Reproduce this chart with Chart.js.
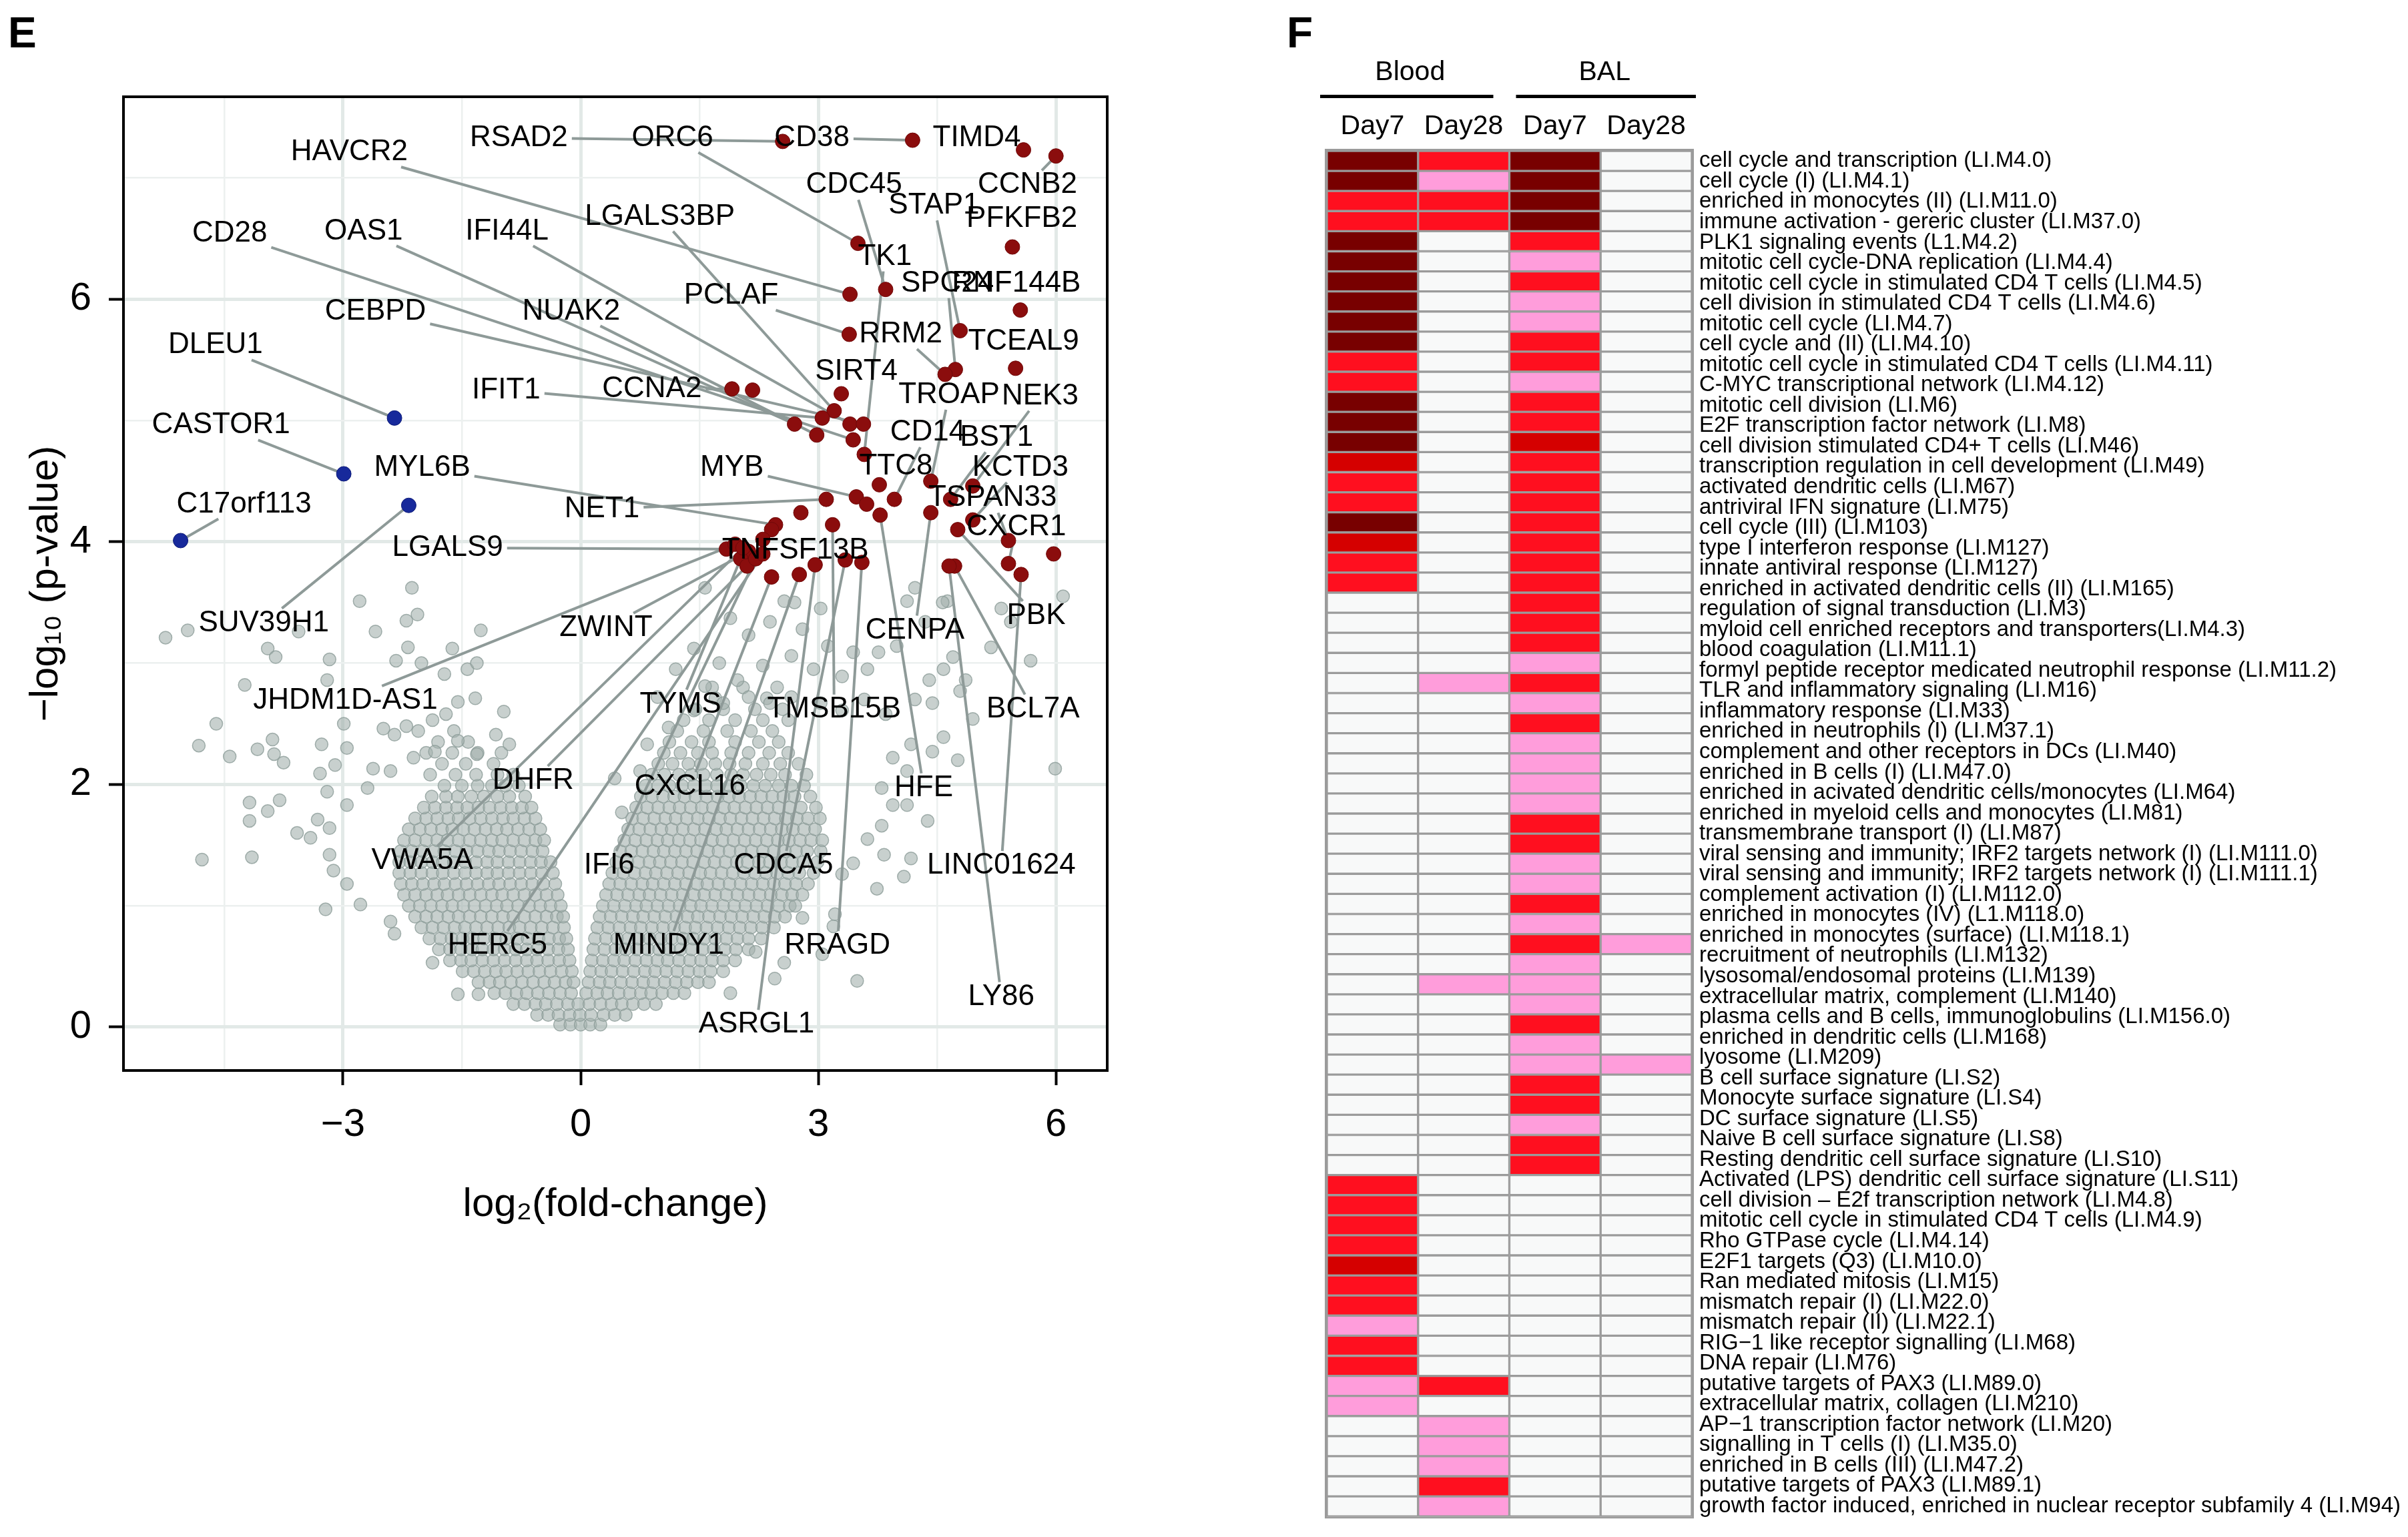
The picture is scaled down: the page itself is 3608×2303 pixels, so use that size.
<!DOCTYPE html>
<html>
<head>
<meta charset="utf-8">
<script src="https://cdn.jsdelivr.net/npm/chart.js@4.4.1/dist/chart.umd.min.js"></script>
<style>
html, body { margin: 0; padding: 0; background: #ffffff; }
#wrap { position: relative; width: 3608px; height: 2303px; overflow: hidden; background: #ffffff; }
#volcano { position: absolute; left: 0; top: 0; }
#heat { position: absolute; left: 1900px; top: 0; }
</style>
</head>
<body>
<div id="wrap">
  <canvas id="volcano" width="1900" height="2303"></canvas>
  <canvas id="heat" width="1708" height="2303"></canvas>
</div>
<script>
// ===================== DATA: panel E (volcano) =====================
const xGridValues = [-4.5, -3, -1.5, 0, 1.5, 3, 4.5, 6];
const xTickValues = [-3, 0, 3, 6];
const yGridValues = [0, 1, 2, 3, 4, 5, 6, 7];
const yTickValues = [0, 2, 4, 6];

const geneNames = ['RSAD2','ORC6','CD38','TIMD4','CCNB2','HAVCR2','CDC45','STAP1','LGALS3BP','PFKFB2',
  'CD28','OAS1','IFI44L','TK1','PCLAF','SPC24','RNF144B','CEBPD','NUAK2','RRM2',
  'TCEAL9','SIRT4','TROAP','NEK3','IFIT1','CCNA2','CD14','BST1','MYB','KCTD3',
  'TTC8','TSPAN33','NET1','MYL6B','CXCR1','LGALS9','TNFSF13B','PBK','CENPA','ZWINT',
  'JHDM1D-AS1','TYMS','TMSB15B','BCL7A','DHFR','CXCL16','HFE','VWA5A','IFI6','CDCA5',
  'LINC01624','HERC5','MINDY1','RRAGD','LY86','ASRGL1','SUV39H1','DLEU1','CASTOR1','C17orf113'];
const geneLog2FC = [2.55,3.50,4.19,5.59,6.00,3.40,3.85,4.79,3.20,5.45,
  3.44,2.70,3.40,3.58,3.39,4.73,5.55,3.57,2.98,4.60,
  5.49,3.29,4.42,4.95,3.05,1.91,3.96,4.67,3.48,4.95,
  3.77,5.40,3.10,2.46,5.40,1.84,2.41,4.76,4.42,2.12,
  1.95,2.02,3.18,4.72,2.10,2.41,3.78,2.05,2.21,3.34,
  5.56,2.30,2.76,3.55,4.65,2.96,-2.17,-2.35,-2.99,-5.05];
const geneNegLog10P = [7.30,6.46,7.31,7.23,7.18,6.04,6.08,5.74,5.08,6.43,
  4.84,4.97,4.97,4.72,5.71,5.42,5.91,4.97,4.88,5.38,
  5.43,5.22,4.50,4.46,5.02,5.26,4.35,4.35,4.37,4.18,
  4.47,4.01,4.35,4.14,3.82,3.94,4.10,4.10,4.24,3.92,
  3.98,3.86,4.14,3.80,3.80,3.71,4.22,3.95,3.86,3.85,
  3.73,3.90,3.73,3.83,3.80,3.81,4.30,5.02,4.56,4.01];
// significant (up) genes without a label
const extraUpLog2FC = [2.17, 3.61, 2.78, 5.97, 2.30];
const extraUpNegLog10P = [5.25, 4.31, 4.24, 3.90, 4.02];

// non-significant genes: dense cloud read row by row, then scattered outliers
const cloudRowY = [0.02,0.10,0.19,0.28,0.37,0.46,0.55,0.64,0.73,0.82,0.91,1.00,1.09,1.18,1.27,1.36,1.45,1.54,1.63,1.72,1.81,1.90,1.99,2.08,2.17,2.26,2.35,2.44,2.53,2.62,2.71,2.80];
const cloudRowX = [
  [-0.26,-0.13,0.00,0.12,0.25],
  [-0.55,-0.41,-0.28,-0.14,-0.01,0.13,0.29,0.43,0.57],
  [-0.85,-0.71,-0.57,-0.44,-0.30,-0.16,-0.03,0.11,0.25,0.39,0.52,0.66,0.80,0.95],
  [-1.09,-0.95,-0.81,-0.68,-0.54,-0.40,-0.26,-0.12,0.07,0.21,0.34,0.48,0.62,0.76,0.89,1.03,1.17,1.31],
  [-1.29,-1.15,-1.02,-0.88,-0.74,-0.60,-0.46,-0.33,-0.19,-0.09,0.10,0.24,0.37,0.51,0.65,0.79,0.92,1.06,1.20,1.34,1.48,1.62],
  [-1.49,-1.35,-1.21,-1.07,-0.94,-0.80,-0.66,-0.52,-0.38,-0.24,-0.11,0.12,0.26,0.39,0.53,0.67,0.81,0.94,1.08,1.22,1.36,1.50,1.64,1.80],
  [-1.65,-1.51,-1.38,-1.24,-1.10,-0.96,-0.82,-0.68,-0.55,-0.41,-0.27,-0.14,0.14,0.28,0.42,0.55,0.69,0.83,0.97,1.10,1.24,1.38,1.52,1.66,1.80,1.95],
  [-1.79,-1.65,-1.51,-1.37,-1.24,-1.10,-0.96,-0.82,-0.68,-0.55,-0.41,-0.28,-0.16,0.16,0.30,0.44,0.57,0.71,0.85,0.99,1.12,1.26,1.40,1.54,1.68,1.82,1.96,2.12],
  [-1.91,-1.77,-1.63,-1.49,-1.36,-1.22,-1.08,-0.94,-0.80,-0.67,-0.53,-0.40,-0.27,-0.18,0.18,0.32,0.46,0.60,0.73,0.87,1.01,1.15,1.29,1.42,1.56,1.70,1.84,1.98,2.12,2.28],
  [-2.01,-1.87,-1.73,-1.59,-1.46,-1.32,-1.18,-1.04,-0.90,-0.77,-0.63,-0.49,-0.35,-0.21,0.21,0.35,0.49,0.63,0.76,0.90,1.04,1.18,1.32,1.45,1.59,1.73,1.87,2.01,2.15,2.29,2.44],
  [-2.09,-1.95,-1.81,-1.67,-1.54,-1.40,-1.26,-1.12,-0.98,-0.85,-0.71,-0.57,-0.43,-0.30,-0.22,0.24,0.38,0.52,0.66,0.79,0.93,1.07,1.21,1.35,1.48,1.62,1.76,1.90,2.04,2.18,2.32,2.45,2.58],
  [-2.17,-2.03,-1.89,-1.75,-1.62,-1.48,-1.34,-1.20,-1.06,-0.93,-0.79,-0.65,-0.51,-0.38,-0.25,0.28,0.42,0.56,0.70,0.83,0.97,1.11,1.25,1.39,1.52,1.66,1.80,1.94,2.08,2.22,2.36,2.50,2.64,2.71],
  [-2.23,-2.09,-1.95,-1.81,-1.68,-1.54,-1.40,-1.26,-1.12,-0.99,-0.85,-0.71,-0.57,-0.43,-0.29,0.32,0.46,0.60,0.74,0.87,1.01,1.15,1.29,1.43,1.56,1.70,1.84,1.98,2.12,2.26,2.40,2.54,2.67,2.80],
  [-2.27,-2.13,-1.99,-1.85,-1.72,-1.58,-1.44,-1.30,-1.16,-1.03,-0.89,-0.75,-0.61,-0.47,-0.32,0.36,0.50,0.64,0.78,0.91,1.05,1.19,1.33,1.47,1.60,1.74,1.88,2.02,2.16,2.30,2.44,2.58,2.72,2.87],
  [-2.29,-2.15,-2.01,-1.87,-1.74,-1.60,-1.46,-1.32,-1.18,-1.05,-0.91,-0.77,-0.63,-0.49,-0.35,0.40,0.54,0.68,0.82,0.95,1.09,1.23,1.37,1.51,1.64,1.78,1.92,2.06,2.20,2.34,2.48,2.62,2.76,2.94],
  [-2.29,-2.15,-2.01,-1.87,-1.74,-1.60,-1.46,-1.32,-1.18,-1.05,-0.91,-0.77,-0.63,-0.50,-0.38,0.45,0.59,0.73,0.87,1.00,1.14,1.28,1.42,1.56,1.69,1.83,1.97,2.11,2.25,2.39,2.53,2.67,2.81,2.99],
  [-2.27,-2.13,-1.99,-1.85,-1.72,-1.58,-1.44,-1.30,-1.16,-1.03,-0.89,-0.75,-0.61,-0.48,0.50,0.64,0.78,0.92,1.05,1.19,1.33,1.47,1.61,1.74,1.88,2.02,2.16,2.30,2.44,2.58,2.72,2.86,3.03],
  [-2.23,-2.09,-1.95,-1.81,-1.68,-1.54,-1.40,-1.26,-1.12,-0.99,-0.85,-0.71,-0.57,-0.46,0.55,0.69,0.83,0.97,1.10,1.24,1.38,1.52,1.66,1.79,1.93,2.07,2.21,2.35,2.49,2.63,2.77,2.91,3.05],
  [-2.17,-2.03,-1.89,-1.75,-1.62,-1.48,-1.34,-1.20,-1.06,-0.93,-0.79,-0.65,-0.51,0.60,0.74,0.88,1.02,1.15,1.29,1.43,1.57,1.71,1.84,1.98,2.12,2.26,2.40,2.54,2.68,2.82,2.96],
  [-2.09,-1.95,-1.81,-1.67,-1.54,-1.40,-1.26,-1.12,-0.98,-0.85,-0.71,-0.57,0.65,0.79,0.93,1.07,1.20,1.34,1.48,1.62,1.76,1.89,2.03,2.17,2.31,2.45,2.59,2.73,2.87,3.02],
  [-1.98,-1.84,-1.70,-1.56,-1.43,-1.29,-1.15,-1.01,-0.87,-0.74,-0.62,0.70,0.84,0.98,1.12,1.25,1.39,1.53,1.67,1.81,1.94,2.08,2.22,2.36,2.50,2.64,2.78,2.97],
  [-1.88,-1.70,-1.55,-1.38,-1.22,-1.05,-0.90,-0.70,0.76,0.90,1.04,1.18,1.31,1.45,1.59,1.73,1.87,2.00,2.14,2.28,2.42,2.56,2.70,2.90],
  [-1.72,-1.50,-1.30,-1.12,-0.95,-0.78,0.82,0.98,1.12,1.28,1.43,1.58,1.72,1.88,2.02,2.18,2.33,2.50,2.66,2.82],
  [-1.90,-1.58,-1.32,-1.05,-0.85,0.90,1.06,1.24,1.40,1.55,1.72,1.90,2.05,2.22,2.40,2.58,2.85],
  [-1.75,-1.45,-1.10,0.98,1.16,1.36,1.52,1.70,1.88,2.08,2.30,2.52,2.75],
  [-1.95,-1.62,-1.30,-1.00,1.05,1.26,1.48,1.66,1.90,2.12,2.38,2.62],
  [-1.80,-1.42,1.12,1.40,1.62,1.95,2.25,2.50],
  [-2.05,-1.60,1.22,1.55,1.85,2.15,2.42],
  [1.30,1.62,1.95,2.30,2.62],
  [1.45,1.80,2.20,2.55],
  [1.70,2.35],
  [1.66,2.05,2.48]
];
const greySparse = [
  [-5.24,3.21],[-4.96,3.27],[-3.95,3.12],[-3.85,3.05],[-3.56,3.26],[-4.24,2.82],[-4.60,2.50],[-4.82,2.32],
  [-4.43,2.23],[-4.08,2.29],[-3.89,2.37],[-3.87,2.25],[-3.75,2.18],[-4.18,1.85],[-3.95,1.78],[-3.80,1.87],
  [-4.18,1.70],[-4.78,1.38],[-4.15,1.40],[-3.58,1.60],[-3.41,1.56],[-3.32,1.71],[-3.17,1.64],[-3.29,2.09],
  [-3.20,1.94],[-3.10,2.16],[-3.27,2.33],[-2.95,2.30],[-2.99,2.50],[-3.20,2.86],[-3.17,3.03],[-2.79,3.51],
  [-2.59,3.26],[-2.20,3.35],[-2.06,3.40],[-2.13,3.62],[-1.26,3.27],[-2.18,3.13],[-1.62,3.12],[-2.33,3.02],
  [-2.01,3.00],[-1.72,2.91],[-1.43,2.95],[-1.31,3.00],[-0.97,2.60],[-1.33,2.71],[-1.55,2.68],[-3.22,0.97],
  [-2.49,2.46],[-2.20,2.48],[-1.87,2.53],[-1.70,2.58],[-2.35,2.41],[-2.62,2.13],[-2.69,1.97],[-2.40,2.11],
  [-2.11,2.22],[-1.84,2.27],[-1.55,2.36],[-1.31,2.25],[-1.07,2.41],[-0.90,2.33],[-2.95,1.83],[-3.17,1.42],
  [-3.12,1.29],[-2.95,1.18],[-2.78,1.01],[-2.40,0.87],[-2.35,0.77],[-1.87,0.53],[-1.55,0.27],[-1.29,0.27],
  [6.09,3.55],[5.43,3.34],[5.31,3.45],[5.68,3.02],[5.18,3.13],[4.70,3.05],[4.86,2.86],[4.95,2.54],
  [4.79,2.77],[5.99,2.13],[4.76,2.20],[4.38,1.70],[4.17,1.39],[4.08,1.24],[3.74,1.14],[3.83,1.42],
  [3.49,0.38],[3.19,0.83],[3.21,0.93],[4.40,2.86],[4.58,2.95],[4.22,2.70],[4.44,2.67],[4.58,2.39],
  [4.17,2.33],[4.44,2.27],[3.94,2.22],[4.12,2.11],[3.80,1.97],[3.94,1.83],[4.12,1.83],[3.80,1.66],
  [3.62,1.55],[3.44,1.35],[3.30,1.26],[4.22,3.62],[4.63,3.51],[4.35,3.34],[4.12,3.51],[3.76,3.09],
  [3.99,3.14],[3.44,3.09],[3.62,2.95],[3.12,3.14],[2.80,3.28],[3.03,3.45],[2.57,3.51],[2.39,3.34],
  [2.12,3.23],[1.89,3.37],[1.57,3.62],[1.75,3.00],[1.43,3.12],[1.20,2.95],[1.57,2.81],[1.98,2.86],
  [2.30,2.98],[2.66,3.06],[2.94,2.95],[3.30,2.89],[0.97,2.72],[0.84,2.33],[1.11,2.47],[1.43,2.61],
  [1.80,2.67],[2.12,2.72],[2.39,2.67],[2.66,2.72],[3.03,2.67],[3.30,2.61],[3.58,2.70],[3.85,2.58],
  [0.52,1.77],[0.43,2.05],[0.75,2.11],[2.21,0.62],[2.57,0.53],[1.89,0.28],[2.80,0.90],[2.45,0.40],
  [3.05,0.60],[2.70,3.50],[4.57,3.50]
];

// ===================== DATA: panel F (heatmap) =====================
const groupNames = ['Blood', 'BAL'];
const columnNames = ['Day7', 'Day28', 'Day7', 'Day28'];
// 0 = not enriched, 1 = pink, 2 = red, 3 = strong red, 4 = dark red
const bloodDay7 = [4,4,2,2,4,4,4,4,4,4, 2,2,4,4,4,3,2,2,4,3, 2,2,0,0,0,0,0,0,0,0, 0,0,0,0,0,0,0,0,0,0,
  0,0,0,0,0,0,0,0,0,0, 0,2,2,2,2,3,2,2,1,2, 2,1,1,0,0,0,0,0];
const bloodDay28 = [2,1,2,2,0,0,0,0,0,0, 0,0,0,0,0,0,0,0,0,0, 0,0,0,0,0,0,1,0,0,0, 0,0,0,0,0,0,0,0,0,0,
  0,1,0,0,0,0,0,0,0,0, 0,0,0,0,0,0,0,0,0,0, 0,2,0,1,1,1,2,1];
const balDay7 = [4,4,4,4,2,1,2,1,1,2, 2,1,2,2,3,2,2,2,2,2, 2,2,2,2,2,1,2,1,2,1, 1,1,1,2,2,1,1,2,1,2,
  1,1,1,2,1,1,2,2,1,2, 2,0,0,0,0,0,0,0,0,0, 0,0,0,0,0,0,0,0];
const balDay28 = [0,0,0,0,0,0,0,0,0,0, 0,0,0,0,0,0,0,0,0,0, 0,0,0,0,0,0,0,0,0,0, 0,0,0,0,0,0,0,0,0,1,
  0,0,0,0,0,1,0,0,0,0, 0,0,0,0,0,0,0,0,0,0, 0,0,0,0,0,0,0,0];
const rowLabels = [
  'cell cycle and transcription (LI.M4.0)',
  'cell cycle (I) (LI.M4.1)',
  'enriched in monocytes (II) (LI.M11.0)',
  'immune activation - gereric cluster (LI.M37.0)',
  'PLK1 signaling events (L1.M4.2)',
  'mitotic cell cycle-DNA replication (LI.M4.4)',
  'mitotic cell cycle in stimulated CD4 T cells (LI.M4.5)',
  'cell division in stimulated CD4 T cells (LI.M4.6)',
  'mitotic cell cycle (LI.M4.7)',
  'cell cycle and (II) (LI.M4.10)',
  'mitotic cell cycle in stimulated CD4 T cells (LI.M4.11)',
  'C-MYC transcriptional network (LI.M4.12)',
  'mitotic cell division (LI.M6)',
  'E2F transcription factor network (LI.M8)',
  'cell division stimulated CD4+ T cells (LI.M46)',
  'transcription regulation in cell development (LI.M49)',
  'activated dendritic cells (LI.M67)',
  'antriviral IFN signature (LI.M75)',
  'cell cycle (III) (LI.M103)',
  'type I interferon response (LI.M127)',
  'innate antiviral response (LI.M127)',
  'enriched in activated dendritic cells (II) (LI.M165)',
  'regulation of signal transduction (LI.M3)',
  'myloid cell enriched receptors and transporters(LI.M4.3)',
  'blood coagulation (LI.M11.1)',
  'formyl peptide receptor medicated neutrophil response (LI.M11.2)',
  'TLR and inflammatory signaling (LI.M16)',
  'inflammatory response (LI.M33)',
  'enriched in neutrophils (I) (LI.M37.1)',
  'complement and other receptors in DCs (LI.M40)',
  'enriched in B cells (I) (LI.M47.0)',
  'enriched in acivated dendritic cells/monocytes (LI.M64)',
  'enriched in myeloid cells and monocytes (LI.M81)',
  'transmembrane transport (I) (LI.M87)',
  'viral sensing and immunity; IRF2 targets network (I) (LI.M111.0)',
  'viral sensing and immunity; IRF2 targets network (I) (LI.M111.1)',
  'complement activation (I) (LI.M112.0)',
  'enriched in monocytes (IV) (L1.M118.0)',
  'enriched in monocytes (surface) (LI.M118.1)',
  'recruitment of neutrophils (LI.M132)',
  'lysosomal/endosomal proteins (LI.M139)',
  'extracellular matrix, complement (LI.M140)',
  'plasma cells and B cells, immunoglobulins (LI.M156.0)',
  'enriched in dendritic cells (LI.M168)',
  'lyosome (LI.M209)',
  'B cell surface signature (LI.S2)',
  'Monocyte surface signature (LI.S4)',
  'DC surface signature (LI.S5)',
  'Naive B cell surface signature (LI.S8)',
  'Resting dendritic cell surface signature (LI.S10)',
  'Activated (LPS) dendritic cell surface signature (LI.S11)',
  'cell division \u2013 E2f transcription network (LI.M4.8)',
  'mitotic cell cycle in stimulated CD4 T cells (LI.M4.9)',
  'Rho GTPase cycle (LI.M4.14)',
  'E2F1 targets (Q3) (LI.M10.0)',
  'Ran mediated mitosis (LI.M15)',
  'mismatch repair (I) (LI.M22.0)',
  'mismatch repair (II) (LI.M22.1)',
  'RIG\u22121 like receptor signalling (LI.M68)',
  'DNA repair (LI.M76)',
  'putative targets of PAX3 (LI.M89.0)',
  'extracellular matrix, collagen (LI.M210)',
  'AP\u22121 transcription factor network (LI.M20)',
  'signalling in T cells (I) (LI.M35.0)',
  'enriched in B cells (III) (LI.M47.2)',
  'putative targets of PAX3 (LI.M89.1)',
  'growth factor induced, enriched in nuclear receptor subfamily 4 (LI.M94)'
];

// ===================== LAYOUT / STYLE =====================
const FONT = '"Liberation Sans", Arial, Helvetica, sans-serif';
// label anchor positions (in data units) for the repelled gene labels
const labelAnchor = {
  'RSAD2':[-0.78,7.33],'ORC6':[1.16,7.33],'CD38':[2.92,7.33],'TIMD4':[5.00,7.33],'CCNB2':[5.64,6.94],
  'HAVCR2':[-2.92,7.21],'CDC45':[3.45,6.94],'STAP1':[4.46,6.77],'LGALS3BP':[1.00,6.68],'PFKFB2':[5.57,6.66],
  'CD28':[-4.43,6.54],'OAS1':[-2.74,6.56],'IFI44L':[-0.93,6.56],'TK1':[3.84,6.35],'PCLAF':[1.90,6.03],
  'SPC24':[4.63,6.13],'RNF144B':[5.50,6.13],'CEBPD':[-2.59,5.90],'NUAK2':[-0.12,5.90],'RRM2':[4.04,5.71],
  'TCEAL9':[5.59,5.65],'SIRT4':[3.48,5.40],'TROAP':[4.65,5.21],'NEK3':[5.80,5.20],'IFIT1':[-0.94,5.25],
  'CCNA2':[0.90,5.26],'CD14':[4.38,4.90],'BST1':[5.25,4.86],'MYB':[1.91,4.61],'KCTD3':[5.55,4.61],
  'TTC8':[3.98,4.62],'TSPAN33':[5.20,4.36],'NET1':[0.27,4.27],'MYL6B':[-2.00,4.61],'CXCR1':[5.50,4.12],
  'LGALS9':[-1.68,3.95],'TNFSF13B':[2.71,3.93],'PBK':[5.75,3.39],'CENPA':[4.22,3.27],'ZWINT':[0.32,3.29],
  'JHDM1D-AS1':[-2.97,2.69],'TYMS':[1.26,2.66],'TMSB15B':[3.20,2.62],'BCL7A':[5.71,2.62],'DHFR':[-0.60,2.03],
  'CXCL16':[1.38,1.98],'HFE':[4.33,1.97],'VWA5A':[-2.00,1.37],'IFI6':[0.36,1.33],'CDCA5':[2.56,1.33],
  'LINC01624':[5.31,1.33],'HERC5':[-1.05,0.67],'MINDY1':[1.11,0.67],'RRAGD':[3.24,0.67],'LY86':[5.31,0.25],
  'ASRGL1':[2.22,0.02],'SUV39H1':[-4.00,3.33],'DLEU1':[-4.61,5.62],'CASTOR1':[-4.54,4.96],'C17orf113':[-4.25,4.31]
};
const levelColors = ['#F8F9F9', '#FF9DDB', '#FF0F1F', '#D50000', '#780000'];

// ===================== BUILD POINT LISTS =====================
const upPoints = [];
const downPoints = [];
geneNames.forEach((g, i) => {
  const p = { x: geneLog2FC[i], y: geneNegLog10P[i] };
  if (geneLog2FC[i] < 0) downPoints.push(p); else upPoints.push(p);
});
extraUpLog2FC.forEach((v, i) => upPoints.push({ x: v, y: extraUpNegLog10P[i] }));
const greyPoints = [];
cloudRowY.forEach((yv, i) => cloudRowX[i].forEach(xv => greyPoints.push({ x: xv, y: yv })));
greySparse.forEach(p => greyPoints.push({ x: p[0], y: p[1] }));

const fmtTick = v => (v < 0 ? '\u2212' + Math.abs(v) : String(v));

// ===================== PLUGINS =====================
const frameE = {
  id: 'frameE',
  afterDraw(chart) {
    const { ctx, chartArea: a } = chart;
    ctx.save();
    ctx.strokeStyle = '#000';
    ctx.lineWidth = 4;
    ctx.strokeRect(a.left, a.top, a.right - a.left, a.bottom - a.top);
    ctx.font = 'bold 64px ' + FONT;
    ctx.fillStyle = '#000';
    ctx.textAlign = 'left';
    ctx.textBaseline = 'alphabetic';
    ctx.fillText('E', 12, 71);
    ctx.restore();
  }
};

const geneLabels = {
  id: 'geneLabels',
  afterDatasetDraw(chart, args) {
    if (args.index !== 2) return; // after the grey cloud, before coloured points
    const { ctx } = chart;
    const xs = chart.scales.x, ys = chart.scales.y;
    ctx.save();
    ctx.font = '44px ' + FONT;
    ctx.strokeStyle = '#8E9A98';
    ctx.lineWidth = 4;
    geneNames.forEach((name, i) => {
      const a = labelAnchor[name];
      const lx = xs.getPixelForValue(a[0]), ly = ys.getPixelForValue(a[1]);
      const px = xs.getPixelForValue(geneLog2FC[i]), py = ys.getPixelForValue(geneNegLog10P[i]);
      const hw = ctx.measureText(name).width / 2 + 6, hh = 22;
      const dx = px - lx, dy = py - ly;
      const tx = dx !== 0 ? hw / Math.abs(dx) : Infinity;
      const ty = dy !== 0 ? hh / Math.abs(dy) : Infinity;
      const t0 = Math.min(tx, ty);
      if (t0 >= 1) return;
      const sx = lx + dx * t0, sy = ly + dy * t0;
      const len = Math.hypot(px - sx, py - sy);
      if (len < 26) return;
      const ex = px - (px - sx) / len * 6, ey = py - (py - sy) / len * 6;
      ctx.beginPath();
      ctx.moveTo(sx, sy);
      ctx.lineTo(ex, ey);
      ctx.stroke();
    });
    ctx.restore();
  },
  afterDatasetsDraw(chart) {
    const { ctx } = chart;
    const xs = chart.scales.x, ys = chart.scales.y;
    ctx.save();
    ctx.font = '44px ' + FONT;
    ctx.fillStyle = '#000';
    ctx.textAlign = 'center';
    ctx.textBaseline = 'middle';
    geneNames.forEach(name => {
      const a = labelAnchor[name];
      ctx.fillText(name, xs.getPixelForValue(a[0]), ys.getPixelForValue(a[1]));
    });
    ctx.restore();
  }
};

const isMajor = (v, list) => list.includes(v);

// ===================== CHART E =====================
new Chart(document.getElementById('volcano'), {
  type: 'scatter',
  data: {
    datasets: [
      { label: 'up', data: upPoints, order: 1, pointRadius: 11, backgroundColor: '#8B0D0D', borderColor: '#700909', borderWidth: 1 },
      { label: 'down', data: downPoints, order: 1, pointRadius: 11, backgroundColor: '#17299B', borderColor: '#0E1C78', borderWidth: 1 },
      { label: 'ns', data: greyPoints, order: 5, pointRadius: 9.5, backgroundColor: 'rgba(163,176,174,0.6)', borderColor: 'rgba(140,156,153,0.8)', borderWidth: 1.5 }
    ]
  },
  options: {
    responsive: false, animation: false, devicePixelRatio: 1, events: [],
    layout: { padding: { left: 0, top: 145, right: 241, bottom: 449 } },
    plugins: { legend: { display: false }, tooltip: { enabled: false } },
    scales: {
      x: {
        type: 'linear', min: -5.771, max: 6.647,
        afterBuildTicks: s => { s.ticks = xGridValues.map(v => ({ value: v })); },
        afterFit: s => { s.height = 250; },
        border: { display: false },
        grid: {
          color: c => isMajor(c.tick.value, xTickValues) ? '#E2E9E7' : '#ECF0EF',
          lineWidth: c => isMajor(c.tick.value, xTickValues) ? 5 : 2.5,
          tickColor: c => isMajor(c.tick.value, xTickValues) ? '#000' : 'rgba(0,0,0,0)',
          tickWidth: 4, tickLength: 22, drawTicks: true
        },
        ticks: {
          callback: v => xTickValues.includes(v) ? fmtTick(v) : '',
          font: { size: 58, family: FONT }, color: '#000', padding: 25, maxRotation: 0, autoSkip: false
        },
        title: { display: true, text: 'log\u2082(fold-change)', font: { size: 60, family: FONT }, color: '#000', padding: { top: 0, bottom: 13 } }
      },
      y: {
        type: 'linear', min: -0.358, max: 7.668,
        afterBuildTicks: s => { s.ticks = yGridValues.map(v => ({ value: v })); },
        afterFit: s => { s.width = 185; },
        border: { display: false },
        grid: {
          color: c => isMajor(c.tick.value, yTickValues) ? '#E2E9E7' : '#ECF0EF',
          lineWidth: c => isMajor(c.tick.value, yTickValues) ? 5 : 2.5,
          tickColor: c => isMajor(c.tick.value, yTickValues) ? '#000' : 'rgba(0,0,0,0)',
          tickWidth: 4, tickLength: 22, drawTicks: true
        },
        ticks: {
          callback: v => yTickValues.includes(v) ? fmtTick(v) : '',
          font: { size: 58, family: FONT }, color: '#000', padding: 26, autoSkip: false
        },
        title: { display: true, text: '\u2212log\u2081\u2080 (p-value)', font: { size: 60, family: FONT }, color: '#000', padding: { top: 33, bottom: 0 } }
      }
    }
  },
  plugins: [geneLabels, frameE]
});

// ===================== CHART F =====================
const heatColumns = [bloodDay7, bloodDay28, balDay7, balDay28];
const cellRows = bloodDay7.map((_, i) => String(i + 1));

const heatDecor = {
  id: 'heatDecor',
  afterDraw(chart) {
    const { ctx, chartArea: a } = chart;
    const xs = chart.scales.x;
    ctx.save();
    // outer frame
    ctx.strokeStyle = '#9B9B9B';
    ctx.lineWidth = 3;
    ctx.strokeRect(a.left - 1.5, a.top - 1.5, a.right - a.left + 3, a.bottom - a.top + 3);
    // group headers
    ctx.fillStyle = '#000';
    ctx.font = '41px ' + FONT;
    ctx.textAlign = 'center';
    ctx.textBaseline = 'middle';
    groupNames.forEach((g, k) => {
      const x0 = xs.getPixelForValue(k * 2), x1 = xs.getPixelForValue(k * 2 + 2);
      ctx.fillText(g, (x0 + x1) / 2 - (k === 0 ? 12 : -6), a.top - 117);
      ctx.fillRect(x0 + (k === 0 ? -10 : 10), a.top - 84, (x1 - x0) - (k === 0 ? 14 : 4), 5);
    });
    ctx.font = 'bold 64px ' + FONT;
    ctx.textAlign = 'left';
    ctx.textBaseline = 'alphabetic';
    ctx.fillText('F', 28, 71);
    ctx.restore();
  }
};

new Chart(document.getElementById('heat'), {
  type: 'bar',
  data: {
    labels: cellRows,
    datasets: heatColumns.map((vals, j) => ({
      label: columnNames[j],
      data: vals.map(() => [j, j + 1]),
      backgroundColor: vals.map(v => levelColors[v]),
      borderColor: '#9B9B9B',
      borderWidth: 2,
      borderSkipped: false,
      barPercentage: 1,
      categoryPercentage: 1,
      grouped: false
    }))
  },
  options: {
    indexAxis: 'y', responsive: false, animation: false, devicePixelRatio: 1, events: [],
    layout: { padding: { left: 88, top: 0, right: 0, bottom: 5 } },
    plugins: { legend: { display: false }, tooltip: { enabled: false } },
    scales: {
      x: {
        type: 'linear', position: 'top', min: 0, max: 4,
        grid: { display: false, drawTicks: false }, border: { display: false },
        afterBuildTicks: s => { s.ticks = columnNames.map((_, j) => ({ value: j + 0.5 })); },
        afterFit: s => { s.height = 226; },
        ticks: { callback: (v, i) => columnNames[i], font: { size: 41, family: FONT }, color: '#000', padding: 12, maxRotation: 0, autoSkip: false }
      },
      y: { type: 'category', display: false, offset: true },
      y2: {
        type: 'category', labels: rowLabels, position: 'right', offset: true,
        grid: { display: false, drawTicks: false }, border: { display: false },
        afterFit: s => { s.width = 1073; },
        ticks: { font: { size: 33, family: FONT }, color: '#000', padding: 11, autoSkip: false, crossAlign: 'near' }
      }
    }
  },
  plugins: [heatDecor]
});
</script>
</body>
</html>
